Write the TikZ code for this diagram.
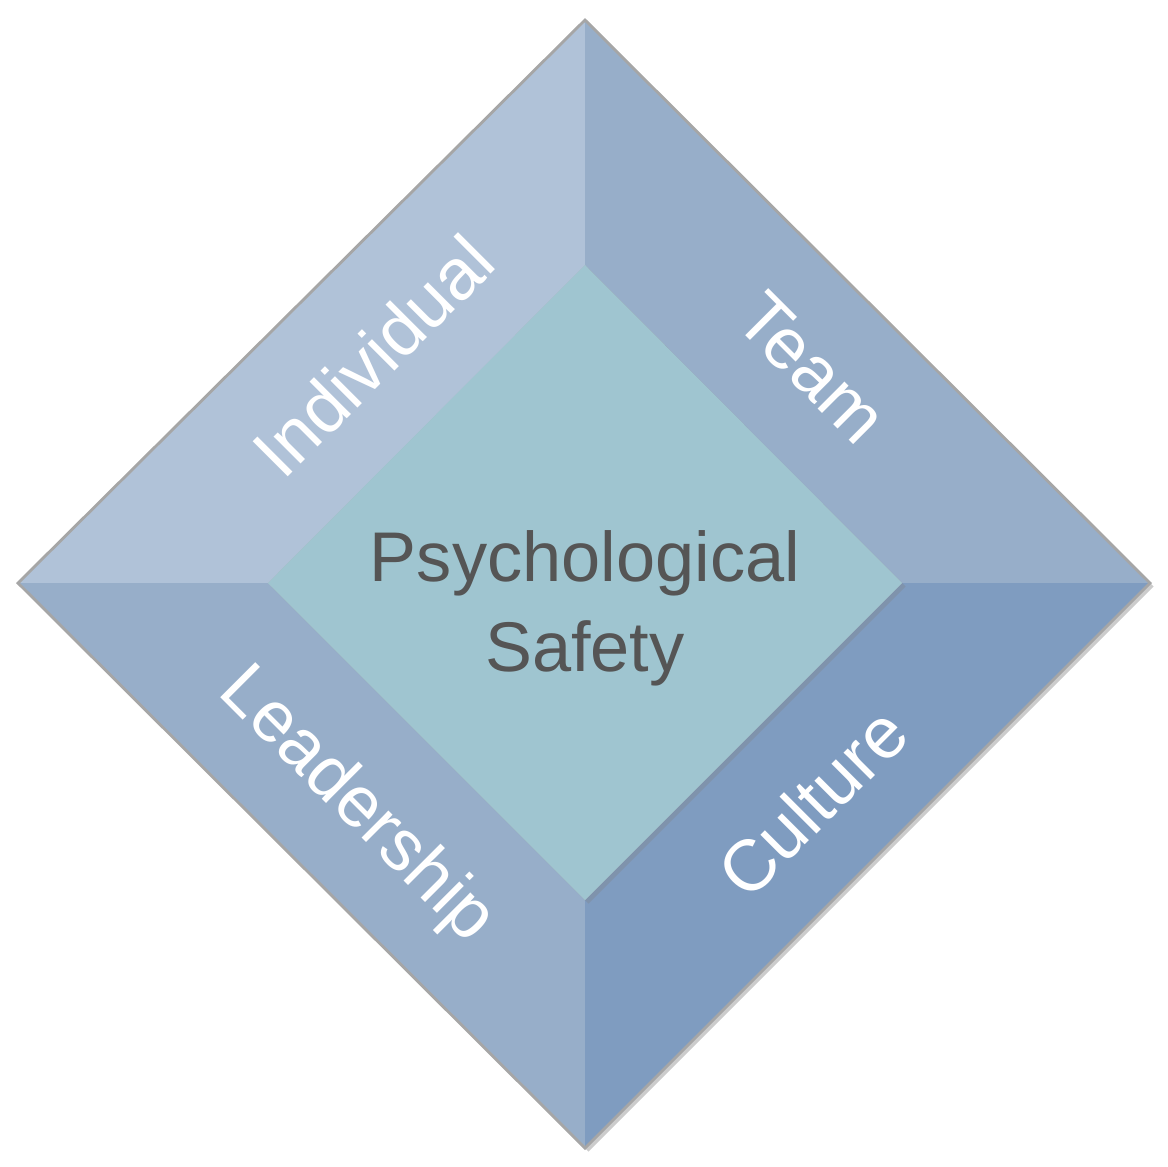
\documentclass[tikz,border=0pt]{standalone}
\usepackage{fontspec}
\setmainfont{Liberation Sans}
\usetikzlibrary{shadows}
\definecolor{facetl}{HTML}{B0C2D8}
\definecolor{facetr}{HTML}{97AEC9}
\definecolor{facebl}{HTML}{97AEC9}
\definecolor{facebr}{HTML}{7F9CC0}
\definecolor{coreblue}{HTML}{9FC5D0}
\definecolor{coretext}{HTML}{555555}
\begin{document}
\begin{tikzpicture}[x=0.01cm,y=-0.01cm,
    facet/.style={draw=gray!70, line width=0.8pt},
    facetext/.style={text=white, font=\fontsize{20.5}{24}\selectfont},
    coretxt/.style={text=coretext, align=center, font=\fontsize{20}{25.5}\selectfont}
  ]
  \useasboundingbox (0,0) rectangle (1168,1166);
  % outer and inner corners
  \coordinate (ot) at (585,20);
  \coordinate (or) at (1150,583);
  \coordinate (ob) at (585,1148);
  \coordinate (ol) at (18,583);
  \coordinate (it) at (585,265);
  \coordinate (ir) at (902,583);
  \coordinate (ib) at (585,900);
  \coordinate (il) at (268,583);
  \fill[gray!60, drop shadow={opacity=0.4, shadow xshift=1pt, shadow yshift=-1pt}] (ot) -- (or) -- (ob) -- (ol) -- cycle;
  % four faces
  \fill[facetl] (ot) -- (it) -- (il) -- (ol) -- cycle;
  \fill[facetr] (ot) -- (or) -- (ir) -- (it) -- cycle;
  \fill[facebl] (ol) -- (il) -- (ib) -- (ob) -- cycle;
  \fill[facebr] (or) -- (ob) -- (ib) -- (ir) -- cycle;
  \draw[facet] (ot) -- (or) -- (ob) -- (ol) -- cycle;
  % core
  \fill[coreblue, drop shadow={opacity=0.3, shadow xshift=1pt, shadow yshift=-1pt}] (it) -- (ir) -- (ib) -- (il) -- cycle;
  \node[coretxt] (core) at (585,608) {Psychological\\Safety};
  \node[facetext, rotate=45] (indiv) at (373,356) {Individual};
  \node[facetext, rotate=-45] (team) at (812,368) {Team};
  \node[facetext, rotate=-45] (lead) at (356,806) {Leadership};
  \node[facetext, rotate=45] (cult) at (812,802) {Culture};
\end{tikzpicture}
\end{document}
